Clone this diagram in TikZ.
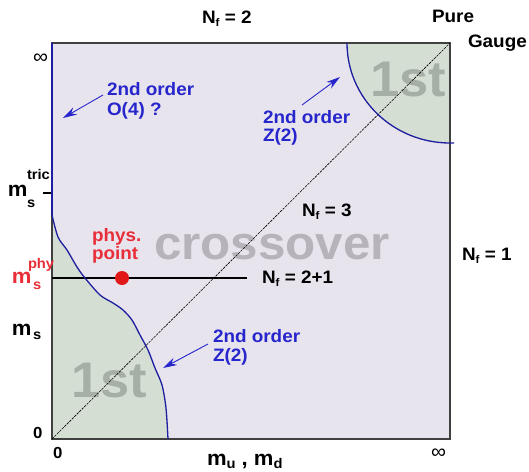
\documentclass[tikz,border=0pt]{standalone}
\usepackage{fontspec}
\setmainfont[FakeStretch=1.05]{Liberation Sans}
\usetikzlibrary{arrows.meta}
\definecolor{lav}{HTML}{E8E4EE}
\definecolor{grn}{HTML}{D4DED3}
\definecolor{bluetxt}{HTML}{2626CC}
\definecolor{bluecurve}{HTML}{1E1EA0}
\definecolor{redtxt}{HTML}{E82E38}
\definecolor{reddot}{HTML}{E01818}
\definecolor{greybig}{HTML}{B6B3BA}
\definecolor{greyfirst}{HTML}{A6AFA6}
\definecolor{frame}{HTML}{404040}
\newcommand\sbx[1]{\raisebox{-0.4ex}{\fontsize{11}{11}\selectfont #1}}
\begin{document}
\begin{tikzpicture}[x=1pt,y=-1pt,
  txt/.style={inner sep=0pt, outer sep=0pt, anchor=base west, font=\fontsize{18}{18}\selectfont\bfseries},
  bl/.style={txt, text=bluetxt},
  rd/.style={txt, text=redtxt},
  msm/.style={txt, font=\fontsize{21}{21}\selectfont\bfseries},
  mss/.style={txt, font=\fontsize{14}{14}\selectfont\bfseries},
  big/.style={inner sep=0pt, anchor=center, font=\fontsize{50}{50}\selectfont\bfseries},
  arr/.style={draw=bluetxt, line width=0.9pt, -{Stealth[length=14pt,width=8pt]}},
  crit/.style={draw=bluecurve, line width=1.3pt}]
\useasboundingbox (0,0) rectangle (529,471);
% background
\fill[lav] (52,43) rectangle (450,439);
% first-order regions
\fill[grn] (52,439) -- (52,215) -- plot[smooth] coordinates {(52,215) (58,237) (67,250) (77,267) (85,278) (100,295) (113,303) (123,310) (132,320) (140,335) (148,350) (155,368) (162,385) (166,408) (168,439)} -- cycle;
\begin{scope}
  \clip (52,43) rectangle (450,439);
  \fill[grn] (450,43) ellipse [x radius=103, y radius=100];
\end{scope}
% big grey words
\node[big, text=greyfirst] (first1) at (109,381) {1st};
\node[big, text=greyfirst] (first2) at (408,80) {1st};
\node[big, text=greybig, font=\fontsize{47}{47}\selectfont\bfseries] (cross) at (272,247) {crossover};
% frame
\draw[frame, line width=1.4pt] (52,43) rectangle (450,439);
% corners
\coordinate (o) at (52,439);
\coordinate (pg) at (450,43);
\coordinate (hl) at (52,278);
\coordinate (hr) at (247,278);
\coordinate (tl) at (52,43);
\coordinate (tr) at (52,215);
\coordinate (ta) at (43,193);
\coordinate (tb) at (52,193);
% diagonal N_f=3 line
\draw[black, line width=0.6pt, dash pattern=on 2.5pt off 1pt] (o) -- (pg);
% N_f=2+1 line
\draw[black, line width=1.1pt] (hl) -- (hr);
% tick
\draw[black, line width=1.1pt] (ta) -- (tb);
% critical lines
\draw[bluecurve, line width=2.2pt] (tl) -- (tr);
\draw[crit] plot[smooth] coordinates {(52,215) (58,237) (67,250) (77,267) (85,278) (100,295) (113,303) (123,310) (132,320) (140,335) (148,350) (155,368) (162,385) (166,408) (168,439)};
\draw[crit] (347,43) arc [start angle=180, end angle=90, x radius=103, y radius=100] -- ++(4,0);
% physical point
\node[circle, fill=reddot, minimum size=14pt, inner sep=0pt] (dot) at (122,278) {};
\node[rd] (phys) at (92,241) {phys.};
\node[rd] (point) at (92,259) {point};
% top / side labels
\node[txt] (nf2) at (202,23) {N\sbx{f} = 2};
\node[txt] (pure) at (432,22) {Pure};
\node[txt] (gauge) at (468,47) {Gauge};
\node[txt] (nf1) at (462,260) {N\sbx{f} = 1};
\node[txt] (nf3) at (302,216) {N\sbx{f} = 3};
\node[txt] (nf21) at (262,283) {N\sbx{f} = 2+1};
% axis labels
\node[txt, font=\fontsize{20}{20}\selectfont] (inftop) at (33,63) {∞};
\node[txt, font=\fontsize{20}{20}\selectfont] (infbot) at (431,458) {∞};
\node[txt, font=\fontsize{16}{16}\selectfont\bfseries] (zl) at (33,438) {0};
\node[txt, font=\fontsize{16}{16}\selectfont\bfseries] (zb) at (53,458) {0};
\node[txt, font=\fontsize{21}{21}\selectfont\bfseries] (mud) at (207,465) {m\raisebox{-0.35ex}{\fontsize{14}{14}\selectfont u} , m\raisebox{-0.35ex}{\fontsize{14}{14}\selectfont d}};
% m_s^tric
\node[msm] (mt) at (8,196) {m};
\node[mss] (mts) at (27,207) {s};
\node[mss] (mtt) at (27,179) {tric};
% m_s^phy
\node[msm, text=redtxt] (mp) at (12,283) {m};
\node[mss, text=redtxt] (mps) at (33,289) {s};
\node[mss, text=redtxt] (mpp) at (28,268) {phy};
% m_s
\node[msm] (mm) at (12,335) {m};
\node[mss] (mms) at (33,339) {s};
% blue labels
\node[bl] (o4a) at (107,95) {2nd order};
\node[bl] (o4b) at (107,115) {O(4) ?};
\node[bl] (zua) at (263,123) {2nd order};
\node[bl] (zub) at (263,141) {Z(2)};
\node[bl] (zla) at (213,342) {2nd order};
\node[bl] (zlb) at (213,361) {Z(2)};
\coordinate (o4s) at (103,95);
\coordinate (o4t) at (63,118);
\coordinate (zus) at (302,105);
\coordinate (zut) at (340,77);
\coordinate (zls) at (208,344);
\coordinate (zlt) at (163,368);
\draw[arr] (o4s) -- (o4t);
\draw[arr] (zus) -- (zut);
\draw[arr] (zls) -- (zlt);
\end{tikzpicture}
\end{document}
